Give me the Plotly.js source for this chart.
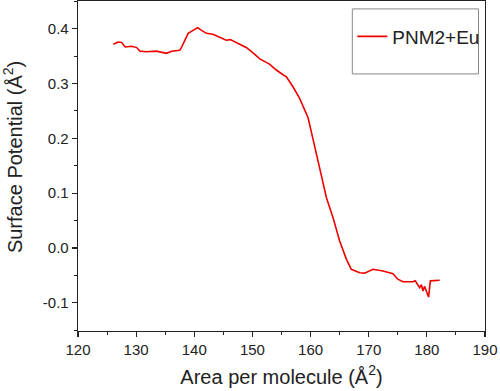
<!DOCTYPE html>
<html><head><meta charset="utf-8">
<script src="https://cdn.plot.ly/plotly-3.0.1.min.js"></script>
<style>html,body{margin:0;padding:0;background:#fff}</style>
</head><body><div id="chart" style="width:500px;height:391px"></div>
<script>
const seriesName = 'PNM2+Eu';
const area = [126.07,126.9,127.5,128.1,129.2,130.1,130.65,131.8,133.5,134.1,135.2,136.1,137.5,137.8,138.4,138.95,139.8,140.57,141.25,142.1,143.2,144.4,145.5,146.2,147.27,149.0,150.1,151.27,153.0,154.1,155.86,157.0,158.14,159.57,160.43,161.58,162.73,163.87,165.0,166.17,167.0,168.45,169.3,170.74,172.46,174.17,175.0,175.9,177.6,178.0,178.76,179.05,179.33,179.6,179.9,180.3,180.6,181.3,182.2];
const potential = [0.3715,0.3757,0.375,0.3666,0.368,0.3655,0.359,0.358,0.359,0.358,0.355,0.359,0.3605,0.366,0.379,0.3915,0.397,0.4018,0.397,0.3915,0.39,0.385,0.379,0.380,0.3745,0.3653,0.356,0.345,0.335,0.3246,0.3119,0.2936,0.2723,0.2376,0.198,0.1464,0.0916,0.0551,0.0126,-0.0208,-0.039,-0.0452,-0.046,-0.039,-0.0422,-0.047,-0.057,-0.0617,-0.0617,-0.060,-0.0726,-0.067,-0.0786,-0.070,-0.080,-0.0896,-0.060,-0.060,-0.059];
const xTicks = [120,130,140,150,160,170,180,190];
const yTickVals = [-0.1,0.0,0.1,0.2,0.3,0.4];
const yTickText = ['-0.1','0.0','0.1','0.2','0.3','0.4'];

const font = 'Liberation Sans, Arial, sans-serif';
const trace = {x: area, y: potential, type: 'scatter', mode: 'lines', name: seriesName,
  line: {color: '#ee0000', width: 1.6}};
const axisCommon = {showline: true, linecolor: '#222', linewidth: 1.3, mirror: true,
  ticks: 'outside', ticklen: 5, tickwidth: 1.2, tickcolor: '#222', showgrid: false, zeroline: false,
  tickfont: {family: font, size: 15, color: '#222'}};
const layout = {
  width: 500, height: 391,
  margin: {l: 77.5, r: 14.5, t: 1, b: 60},
  paper_bgcolor: '#fff', plot_bgcolor: '#fff',
  showlegend: true,
  xaxis: Object.assign({}, axisCommon, {range: [120, 190], tickvals: xTicks,
    minor: {dtick: 5, ticks: 'outside', ticklen: 3, tickcolor: '#222', tickwidth: 1},
    title: {text: 'Area per molecule (Å<sup>2</sup>)', font: {family: font, size: 20, color: '#222'}, standoff: 12}}),
  yaxis: Object.assign({}, axisCommon, {range: [-0.1515, 0.4505], tickvals: yTickVals, ticktext: yTickText,
    minor: {dtick: 0.05, tick0: 0, ticks: 'outside', ticklen: 3, tickcolor: '#222', tickwidth: 1}}),
  legend: {x: 0.674, y: 0.95, xanchor: 'left', yanchor: 'top', bgcolor: 'rgba(0,0,0,0)',
    font: {family: font, size: 19, color: '#222'}, itemwidth: 30},
  shapes: [{type: 'rect', xref: 'paper', yref: 'paper', x0: 0.674, x1: 0.984, y0: 0.779, y1: 0.976,
    line: {color: '#888', width: 1}}],
  annotations: [{text: 'Surface Potential (Å<sup>2</sup>)', xref: 'paper', yref: 'paper',
    x: -0.1605, y: 0.526, xanchor: 'center', yanchor: 'middle', textangle: -90, showarrow: false,
    font: {family: font, size: 20, color: '#222'}}]
};
Plotly.newPlot('chart', [trace], layout, {displayModeBar: false, staticPlot: true});
</script></body></html>
